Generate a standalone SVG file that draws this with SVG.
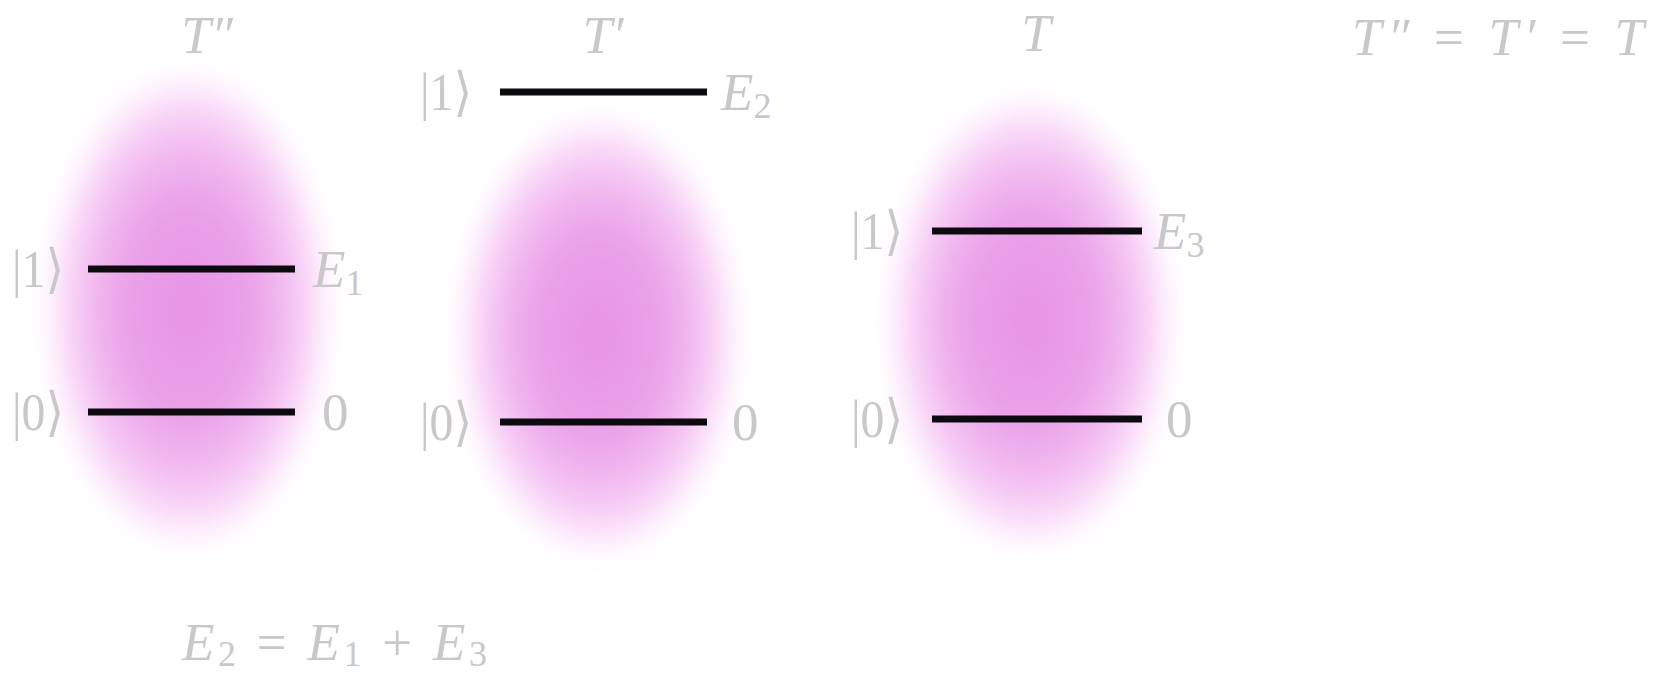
<svg xmlns="http://www.w3.org/2000/svg" width="1654" height="680" viewBox="0 0 1654 680">
  <defs>
    <radialGradient id="glow" cx="50%" cy="50%" r="50%">
      <stop offset="0" stop-color="#e793e5"/>
      <stop offset="0.45" stop-color="#eaa2e9"/>
      <stop offset="0.7" stop-color="#f4c2f2"/>
      <stop offset="0.88" stop-color="#fce6fb"/>
      <stop offset="1" stop-color="#ffffff" stop-opacity="0"/>
    </radialGradient>
    <filter id="soft" x="-30%" y="-30%" width="160%" height="160%">
      <feGaussianBlur stdDeviation="12"/>
    </filter>
  </defs>
  <style>
    .lbl { font-family: "Liberation Serif", "DejaVu Serif", serif; font-size: 53px; fill: #c8c8c8; }
    .it { font-style: italic; }
    .sub { font-size: 36px; font-style: normal; }
    .lvl { stroke: #0e0b10; stroke-width: 7; stroke-linecap: butt; }
    .cloud { fill: url(#glow); filter: url(#soft); }
  </style>
  <rect width="1654" height="680" fill="#ffffff"/>

  <g id="col-Tpp">
    <ellipse class="cloud" cx="188" cy="309" rx="150" ry="248"/>
    <text class="lbl it" x="207" y="53" text-anchor="middle">T″</text>
    <line class="lvl" x1="88" y1="269" x2="295" y2="269"/>
    <line class="lvl" x1="88" y1="412" x2="295" y2="412"/>
    <text class="lbl" x="12" y="287" textLength="52" lengthAdjust="spacingAndGlyphs">|1⟩</text>
    <text class="lbl" x="12" y="430" textLength="52" lengthAdjust="spacingAndGlyphs">|0⟩</text>
    <text class="lbl" x="313" y="287"><tspan class="it">E</tspan><tspan class="sub" dy="8">1</tspan></text>
    <text class="lbl" x="322" y="430">0</text>
  </g>

  <g id="col-Tp">
    <ellipse class="cloud" cx="598" cy="335" rx="148" ry="230"/>
    <text class="lbl it" x="603" y="53" text-anchor="middle">T′</text>
    <line class="lvl" x1="500" y1="92" x2="707" y2="92"/>
    <line class="lvl" x1="500" y1="422" x2="707" y2="422"/>
    <text class="lbl" x="420" y="110" textLength="52" lengthAdjust="spacingAndGlyphs">|1⟩</text>
    <text class="lbl" x="420" y="440" textLength="52" lengthAdjust="spacingAndGlyphs">|0⟩</text>
    <text class="lbl" x="721" y="110"><tspan class="it">E</tspan><tspan class="sub" dy="8">2</tspan></text>
    <text class="lbl" x="732" y="440">0</text>
  </g>

  <g id="col-T">
    <ellipse class="cloud" cx="1030" cy="322" rx="150" ry="236"/>
    <text class="lbl it" x="1036" y="51" text-anchor="middle">T</text>
    <line class="lvl" x1="932" y1="231" x2="1142" y2="231"/>
    <line class="lvl" x1="932" y1="419" x2="1142" y2="419"/>
    <text class="lbl" x="851" y="249" textLength="52" lengthAdjust="spacingAndGlyphs">|1⟩</text>
    <text class="lbl" x="851" y="437" textLength="52" lengthAdjust="spacingAndGlyphs">|0⟩</text>
    <text class="lbl" x="1154" y="249"><tspan class="it">E</tspan><tspan class="sub" dy="8">3</tspan></text>
    <text class="lbl" x="1166" y="437">0</text>
  </g>

  <g id="eq-T">
    <text class="lbl" x="1352" y="55" textLength="292" lengthAdjust="spacing"><tspan class="it">T″</tspan>  =  <tspan class="it">T′</tspan>  =  <tspan class="it">T</tspan></text>
  </g>

  <g id="eq-E">
    <text class="lbl" x="182" y="660" textLength="305" lengthAdjust="spacing"><tspan class="it">E</tspan><tspan class="sub" dy="6">2</tspan><tspan dy="-6">  =  </tspan><tspan class="it">E</tspan><tspan class="sub" dy="6">1</tspan><tspan dy="-6">  +  </tspan><tspan class="it">E</tspan><tspan class="sub" dy="6">3</tspan></text>
  </g>
</svg>
